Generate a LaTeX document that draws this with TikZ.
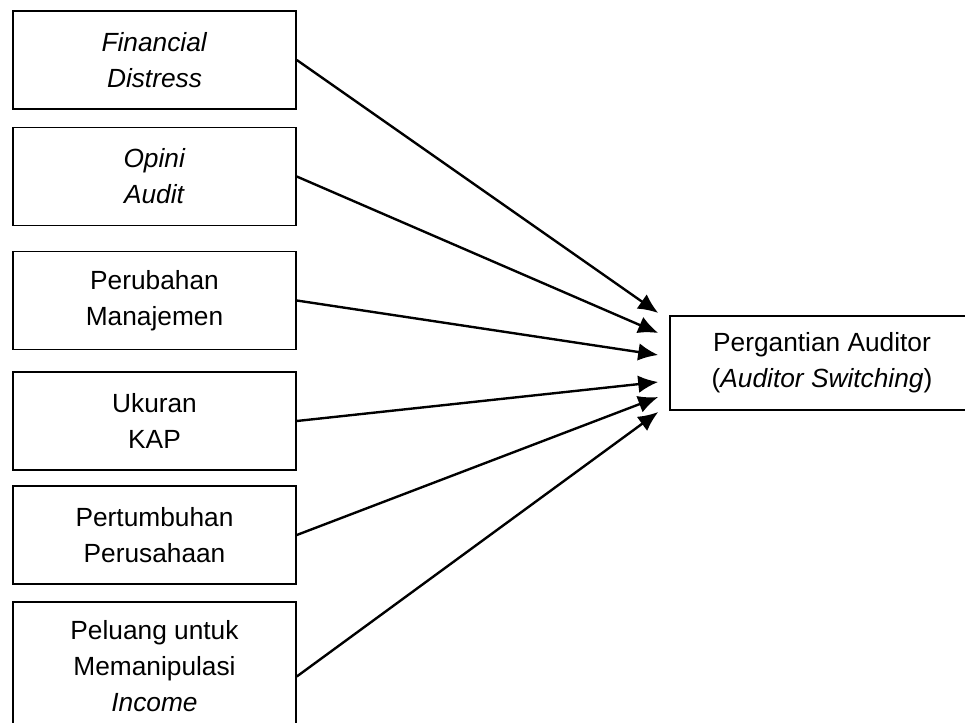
\documentclass[tikz,border=0pt]{standalone}
\usepackage{fontspec}
\setmainfont{Liberation Sans}
\usetikzlibrary{arrows.meta,positioning,calc}
\tikzset{
block/.style = {draw, fill=white, rectangle, line width=1.1pt, minimum height=2.45cm, minimum width=7.075cm, align=center, font=\fontsize{18.7}{25.6}\selectfont},
tall/.style = {block, minimum height=3.225cm},
target/.style = {block, minimum height=2.35cm, minimum width=7.6cm},
tip/.style = {coordinate},
link/.style = {->, line width=1.7pt}
}
\begin{document}
\begin{tikzpicture}[auto, node distance=3cm, >={Latex[length=5mm,width=4.4mm]}]
    \useasboundingbox (0,0) rectangle (24.125,-18.075);
    \node [block] (fd) at (3.8625,-1.5) {\textit{Financial}\\\textit{Distress}};
    \node [block, below of=fd, node distance=2.9125cm] (oa) {\textit{Opini}\\\textit{Audit}};
    \node [block, below of=oa, node distance=3.1cm] (pm) {Perubahan\\Manajemen};
    \node [block, below of=pm, node distance=3.0125cm] (kap) {Ukuran\\KAP};
    \node [block, below of=kap, node distance=2.85cm] (pp) {Pertumbuhan\\Perusahaan};
    \node [tall, below of=pp, node distance=3.2875cm] (pmi) {Peluang untuk\\Memanipulasi\\\textit{Income}};
    \node [target] (as) at (20.55,-9.075) {Pergantian Auditor\\(\textit{Auditor Switching})};
    % arrow tips in front of the target box
    \coordinate (t1) at ([xshift=-0.275cm, yshift=1.25cm]as.west);
    \coordinate (t2) at ([xshift=-0.275cm, yshift=0.75cm]as.west);
    \coordinate (t3) at ([xshift=-0.275cm, yshift=0.2cm]as.west);
    \coordinate (t4) at ([xshift=-0.275cm, yshift=-0.475cm]as.west);
    \coordinate (t5) at ([xshift=-0.275cm, yshift=-0.85cm]as.west);
    \coordinate (t6) at ([xshift=-0.275cm, yshift=-1.225cm]as.west);
    \draw [link] (fd.east) -- (t1);
    \draw [link] (oa.east) -- (t2);
    \draw [link] (pm.east) -- (t3);
    \draw [link] (kap.east) -- (t4);
    \draw [link] (pp.east) -- (t5);
    \draw [link] ([yshift=-0.25cm]pmi.east) -- (t6);
\end{tikzpicture}
\end{document}
